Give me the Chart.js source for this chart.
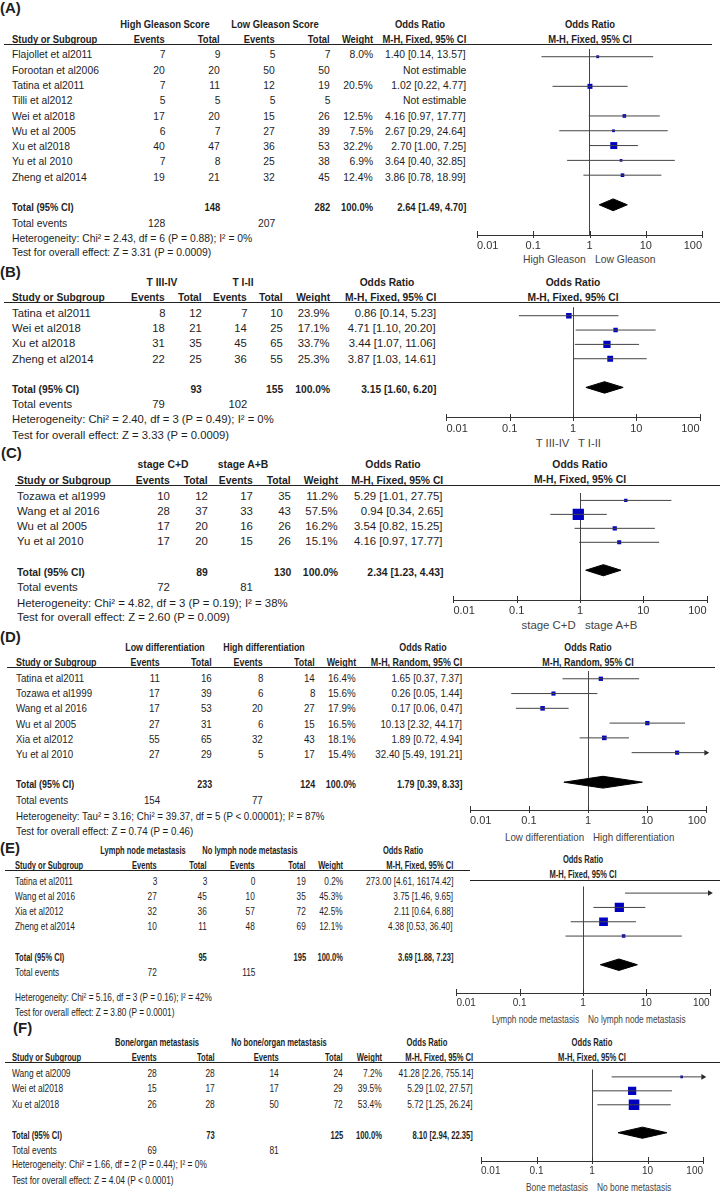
<!DOCTYPE html>
<html>
<head>
<meta charset="utf-8">
<script src="https://cdn.jsdelivr.net/npm/chart.js@4.4.0/dist/chart.umd.min.js"></script>
<style>
  html, body { margin: 0; padding: 0; background: #fff; }
  #page { position: relative; width: 720px; height: 1195px; overflow: hidden;
          font-family: 'Liberation Sans', Arial, sans-serif; color: #1e1e1e; }
  .t { position: absolute; white-space: nowrap; line-height: 14px; font-size: 11.5px; }
  .rule { position: absolute; height: 1px; background: #222; }
  canvas { position: absolute; }
</style>
</head>
<body>
<div id="page"></div>
<script>
// shared axis
const tickValues = [0.01, 0.1, 1, 10, 100];
const tickLabels = ['0.01', '0.1', '1', '10', '100'];

// (A) Gleason score
const studiesA = ['Flajollet et al2011', 'Forootan et al2006', 'Tatina et al2011', 'Tilli et al2012', 'Wei et al2018', 'Wu et al 2005', 'Xu et al2018', 'Yu et al 2010', 'Zheng et al2014'];
const expEventsA = [7, 20, 7, 5, 17, 6, 40, 7, 19];
const expTotalA = [9, 20, 11, 5, 20, 7, 47, 8, 21];
const ctlEventsA = [5, 50, 12, 5, 15, 27, 36, 25, 32];
const ctlTotalA = [7, 50, 19, 5, 26, 39, 53, 38, 45];
const weightA = [8.0, null, 20.5, null, 12.5, 7.5, 32.2, 6.9, 12.4];
const oddsA = [1.40, null, 1.02, null, 4.16, 2.67, 2.70, 3.64, 3.86];
const lowA = [0.14, null, 0.22, null, 0.97, 0.29, 1.00, 0.40, 0.78];
const highA = [13.57, null, 4.77, null, 17.77, 24.64, 7.25, 32.85, 18.99];
const sumTotalsA = [148, 282];
const sumEventsA = [128, 207];
const pooledA = [2.64, 1.49, 4.70];
const groupsA = ['High Gleason Score', 'Low Gleason Score'];
const favoursA = ['High Gleason', 'Low Gleason'];
const methodA = 'M-H, Fixed, 95% CI';
const notesA = ['Heterogeneity: Chi² = 2.43, df = 6 (P = 0.88); I² = 0%', 'Test for overall effect: Z = 3.31 (P = 0.0009)'];

// (B) T stage
const studiesB = ['Tatina et al2011', 'Wei et al2018', 'Xu et al2018', 'Zheng et al2014'];
const expEventsB = [8, 18, 31, 22];
const expTotalB = [12, 21, 35, 25];
const ctlEventsB = [7, 14, 45, 36];
const ctlTotalB = [10, 25, 65, 55];
const weightB = [23.9, 17.1, 33.7, 25.3];
const oddsB = [0.86, 4.71, 3.44, 3.87];
const lowB = [0.14, 1.10, 1.07, 1.03];
const highB = [5.23, 20.20, 11.06, 14.61];
const sumTotalsB = [93, 155];
const sumEventsB = [79, 102];
const pooledB = [3.15, 1.60, 6.20];
const groupsB = ['T III-IV', 'T I-II'];
const favoursB = ['T III-IV', 'T I-II'];
const methodB = 'M-H, Fixed, 95% CI';
const notesB = ['Heterogeneity: Chi² = 2.40, df = 3 (P = 0.49); I² = 0%', 'Test for overall effect: Z = 3.33 (P = 0.0009)'];

// (C) clinical stage
const studiesC = ['Tozawa et al1999', 'Wang et al 2016', 'Wu et al 2005', 'Yu et al 2010'];
const expEventsC = [10, 28, 17, 17];
const expTotalC = [12, 37, 20, 20];
const ctlEventsC = [17, 33, 16, 15];
const ctlTotalC = [35, 43, 26, 26];
const weightC = [11.2, 57.5, 16.2, 15.1];
const oddsC = [5.29, 0.94, 3.54, 4.16];
const lowC = [1.01, 0.34, 0.82, 0.97];
const highC = [27.75, 2.65, 15.25, 17.77];
const sumTotalsC = [89, 130];
const sumEventsC = [72, 81];
const pooledC = [2.34, 1.23, 4.43];
const groupsC = ['stage C+D', 'stage A+B'];
const favoursC = ['stage C+D', 'stage A+B'];
const methodC = 'M-H, Fixed, 95% CI';
const notesC = ['Heterogeneity: Chi² = 4.82, df = 3 (P = 0.19); I² = 38%', 'Test for overall effect: Z = 2.60 (P = 0.009)'];

// (D) differentiation
const studiesD = ['Tatina et al2011', 'Tozawa et al1999', 'Wang et al 2016', 'Wu et al 2005', 'Xia et al2012', 'Yu et al 2010'];
const expEventsD = [11, 17, 17, 27, 55, 27];
const expTotalD = [16, 39, 53, 31, 65, 29];
const ctlEventsD = [8, 6, 20, 6, 32, 5];
const ctlTotalD = [14, 8, 27, 15, 43, 17];
const weightD = [16.4, 15.6, 17.9, 16.5, 18.1, 15.4];
const oddsD = [1.65, 0.26, 0.17, 10.13, 1.89, 32.40];
const lowD = [0.37, 0.05, 0.06, 2.32, 0.72, 5.49];
const highD = [7.37, 1.44, 0.47, 44.17, 4.94, 191.21];
const sumTotalsD = [233, 124];
const sumEventsD = [154, 77];
const pooledD = [1.79, 0.39, 8.33];
const groupsD = ['Low differentiation', 'High differentiation'];
const favoursD = ['Low differentiation', 'High differentiation'];
const methodD = 'M-H, Random, 95% CI';
const notesD = ['Heterogeneity: Tau² = 3.16; Chi² = 39.37, df = 5 (P < 0.00001); I² = 87%', 'Test for overall effect: Z = 0.74 (P = 0.46)'];

// (E) lymph node metastasis
const studiesE = ['Tatina et al2011', 'Wang et al 2016', 'Xia et al2012', 'Zheng et al2014'];
const expEventsE = [3, 27, 32, 10];
const expTotalE = [3, 45, 36, 11];
const ctlEventsE = [0, 10, 57, 48];
const ctlTotalE = [19, 35, 72, 69];
const weightE = [0.2, 45.3, 42.5, 12.1];
const oddsE = [273.00, 3.75, 2.11, 4.38];
const lowE = [4.61, 1.46, 0.64, 0.53];
const highE = [16174.42, 9.65, 6.88, 36.40];
const sumTotalsE = [95, 195];
const sumEventsE = [72, 115];
const pooledE = [3.69, 1.88, 7.23];
const groupsE = ['Lymph node metastasis', 'No lymph node metastasis'];
const favoursE = ['Lymph node metastasis', 'No lymph node metastasis'];
const methodE = 'M-H, Fixed, 95% CI';
const notesE = ['Heterogeneity: Chi² = 5.16, df = 3 (P = 0.16); I² = 42%', 'Test for overall effect: Z = 3.80 (P = 0.0001)'];

// (F) bone/organ metastasis
const studiesF = ['Wang et al2009', 'Wei et al2018', 'Xu et al2018'];
const expEventsF = [28, 15, 26];
const expTotalF = [28, 17, 28];
const ctlEventsF = [14, 17, 50];
const ctlTotalF = [24, 29, 72];
const weightF = [7.2, 39.5, 53.4];
const oddsF = [41.28, 5.29, 5.72];
const lowF = [2.26, 1.02, 1.25];
const highF = [755.14, 27.57, 26.24];
const sumTotalsF = [73, 125];
const sumEventsF = [69, 81];
const pooledF = [8.10, 2.94, 22.35];
const groupsF = ['Bone/organ metastasis', 'No bone/organ metastasis'];
const favoursF = ['Bone metastasis', 'No bone metastasis'];
const methodF = 'M-H, Fixed, 95% CI';
const notesF = ['Heterogeneity: Chi² = 1.66, df = 2 (P = 0.44); I² = 0%', 'Test for overall effect: Z = 4.04 (P < 0.0001)'];

// page layout (pixels), one block per panel
const layoutA = { tag: [0, 8], groupY: 24, headY: 39, rules: [[4, 712, 44]], rowY: 54.3, rowStep: 15.3, hetY: 238, testY: 252, k: 0.9,
  cols: { study: 12, ev1: 165, tot1: 220, ev2: 275, tot2: 330, wt: 373, or: 466, g1: 165, g2: 275, orHead: 420 },
  plot: { left: 477, right: 702, top: 44, bottom: 235, rowY: 52, rowStep: 15.2, headY: 24, dirY: 259, font: 11 } };
const layoutB = { tag: [0, 272], groupY: 282, headY: 297, rules: [[4, 720, 302]], rowY: 313, rowStep: 15.2, hetY: 419, testY: 435, k: 0.98,
  cols: { study: 12, ev1: 165, tot1: 202, ev2: 247, tot2: 283, wt: 330, or: 436, g1: 162, g2: 243, orHead: 387 },
  plot: { left: 446.4, right: 699.6, top: 302, bottom: 418, rowY: 311, rowStep: 15, headY: 282, dirY: 443, font: 11 } };
const layoutC = { tag: [1, 453], groupY: 464, headY: 480, rules: [[15, 720, 485]], rowY: 496, rowStep: 15.1, hetY: 603, testY: 617, k: 0.99,
  cols: { study: 17, ev1: 170, tot1: 208, ev2: 253, tot2: 291, wt: 338, or: 443, g1: 163, g2: 243, orHead: 393 },
  plot: { left: 453.4, right: 706.6, top: 485, bottom: 600, rowY: 493, rowStep: 15, headY: 464, dirY: 625, font: 11 } };
const layoutD = { tag: [0, 637], groupY: 647, headY: 662, rules: [[7, 715, 667]], rowY: 678, rowStep: 15.2, hetY: 816, testY: 831, k: 0.85,
  cols: { study: 16, ev1: 160, tot1: 212, ev2: 263, tot2: 315, wt: 356, or: 462, g1: 165, g2: 264, orHead: 423 },
  plot: { left: 470, right: 706, top: 667, bottom: 810, rowY: 675, rowStep: 15.2, headY: 647, dirY: 837, font: 11 } };
const layoutE = { tag: [0, 848], groupY: 850, headY: 865, rules: [[5, 470, 870], [470, 720, 880]], rowY: 881, rowStep: 15.1, hetY: 997, testY: 1012, k: 0.72,
  cols: { study: 15, ev1: 157, tot1: 207, ev2: 255, tot2: 306, wt: 343, or: 453, g1: 143, g2: 250, orHead: 403 },
  plot: { left: 456.4, right: 709.6, top: 880, bottom: 993, rowY: 887, rowStep: 15.2, headY: 859, dirY: 1019, font: 10 } };
const layoutF = { tag: [13, 1028], groupY: 1042, headY: 1057, rules: [[5, 720, 1062]], rowY: 1073, rowStep: 15.4, hetY: 1164, testY: 1180, k: 0.73,
  cols: { study: 12, ev1: 157, tot1: 215, ev2: 279, tot2: 343, wt: 382, or: 473, g1: 157, g2: 279, orHead: 427 },
  plot: { left: 481, right: 703, top: 1062, bottom: 1161, rowY: 1070, rowStep: 15.1, headY: 1042, dirY: 1187, font: 10 } };
const boldSqueeze = 0.91;

const panels = [
  { tag: '(A)', studies: studiesA, expEvents: expEventsA, expTotal: expTotalA, ctlEvents: ctlEventsA, ctlTotal: ctlTotalA, weight: weightA, odds: oddsA, low: lowA, high: highA, sumTotals: sumTotalsA, sumEvents: sumEventsA, pooled: pooledA, groups: groupsA, favours: favoursA, method: methodA, notes: notesA, layout: layoutA },
  { tag: '(B)', studies: studiesB, expEvents: expEventsB, expTotal: expTotalB, ctlEvents: ctlEventsB, ctlTotal: ctlTotalB, weight: weightB, odds: oddsB, low: lowB, high: highB, sumTotals: sumTotalsB, sumEvents: sumEventsB, pooled: pooledB, groups: groupsB, favours: favoursB, method: methodB, notes: notesB, layout: layoutB },
  { tag: '(C)', studies: studiesC, expEvents: expEventsC, expTotal: expTotalC, ctlEvents: ctlEventsC, ctlTotal: ctlTotalC, weight: weightC, odds: oddsC, low: lowC, high: highC, sumTotals: sumTotalsC, sumEvents: sumEventsC, pooled: pooledC, groups: groupsC, favours: favoursC, method: methodC, notes: notesC, layout: layoutC },
  { tag: '(D)', studies: studiesD, expEvents: expEventsD, expTotal: expTotalD, ctlEvents: ctlEventsD, ctlTotal: ctlTotalD, weight: weightD, odds: oddsD, low: lowD, high: highD, sumTotals: sumTotalsD, sumEvents: sumEventsD, pooled: pooledD, groups: groupsD, favours: favoursD, method: methodD, notes: notesD, layout: layoutD },
  { tag: '(E)', studies: studiesE, expEvents: expEventsE, expTotal: expTotalE, ctlEvents: ctlEventsE, ctlTotal: ctlTotalE, weight: weightE, odds: oddsE, low: lowE, high: highE, sumTotals: sumTotalsE, sumEvents: sumEventsE, pooled: pooledE, groups: groupsE, favours: favoursE, method: methodE, notes: notesE, layout: layoutE },
  { tag: '(F)', studies: studiesF, expEvents: expEventsF, expTotal: expTotalF, ctlEvents: ctlEventsF, ctlTotal: ctlTotalF, weight: weightF, odds: oddsF, low: lowF, high: highF, sumTotals: sumTotalsF, sumEvents: sumEventsF, pooled: pooledF, groups: groupsF, favours: favoursF, method: methodF, notes: notesF, layout: layoutF }
];

const page = document.getElementById('page');

// absolutely placed text, y is the visual middle of the line
function put(str, x, y, opt = {}) {
  const d = document.createElement('div');
  d.className = 't';
  d.textContent = str;
  let k = opt.k || 1;
  if (opt.bold) k *= boldSqueeze;
  d.style.top = (y - 7) + 'px';
  if (opt.size) d.style.fontSize = opt.size + 'px';
  if (opt.bold) d.style.fontWeight = 'bold';
  if (opt.color) d.style.color = opt.color;
  const align = opt.align || 'left';
  if (align === 'left') {
    d.style.left = x + 'px';
    d.style.transformOrigin = 'left center';
    d.style.transform = `scaleX(${k})`;
  } else if (align === 'right') {
    d.style.right = (720 - x) + 'px';
    d.style.transformOrigin = 'right center';
    d.style.transform = `scaleX(${k})`;
  } else {
    d.style.left = x + 'px';
    d.style.transform = `translateX(-50%) scaleX(${k})`;
  }
  page.appendChild(d);
}

function rule(x0, x1, y) {
  const d = document.createElement('div');
  d.className = 'rule';
  d.style.left = x0 + 'px';
  d.style.width = (x1 - x0) + 'px';
  d.style.top = y + 'px';
  page.appendChild(d);
}

const orText = (o, l, h) => `${o.toFixed(2)} [${l.toFixed(2)}, ${h.toFixed(2)}]`;
const squareRadius = w => (1.5 + 0.17 * w) / Math.SQRT2;

// tick marks crossing the axis line
const axisTicks = {
  id: 'axisTicks',
  afterDraw(chart) {
    const s = chart.scales.x, ctx = chart.ctx, yb = Math.round(chart.chartArea.bottom);
    ctx.save();
    ctx.strokeStyle = '#333';
    ctx.lineWidth = 1;
    s.ticks.forEach(t => {
      const x = Math.round(s.getPixelForValue(t.value)) + 0.5;
      ctx.beginPath();
      ctx.moveTo(x, yb - 4);
      ctx.lineTo(x, yb + 3);
      ctx.stroke();
    });
    ctx.restore();
  }
};

function drawPanel(p) {
  const L = p.layout, c = L.cols, n = p.studies.length;
  const rowAt = i => L.rowY + i * L.rowStep;
  const o = { k: L.k };
  const r = { k: L.k, align: 'right' };
  const rb = { k: L.k, align: 'right', bold: true };

  put(p.tag, L.tag[0], L.tag[1], { bold: true, size: 15, k: 1 / boldSqueeze });
  L.rules.forEach(([x0, x1, y]) => rule(x0, x1, y));

  // table header
  put(p.groups[0], c.g1, L.groupY, { k: L.k, bold: true, align: 'center' });
  put(p.groups[1], c.g2, L.groupY, { k: L.k, bold: true, align: 'center' });
  put('Odds Ratio', c.orHead, L.groupY, { k: L.k, bold: true, align: 'center' });
  put('Study or Subgroup', c.study, L.headY, { k: L.k, bold: true });
  put('Events', c.ev1, L.headY, rb);
  put('Total', c.tot1, L.headY, rb);
  put('Events', c.ev2, L.headY, rb);
  put('Total', c.tot2, L.headY, rb);
  put('Weight', c.wt, L.headY, rb);
  put(p.method, c.or, L.headY, rb);

  // study rows
  p.studies.forEach((name, i) => {
    const y = rowAt(i);
    put(name, c.study, y, o);
    put(String(p.expEvents[i]), c.ev1, y, r);
    put(String(p.expTotal[i]), c.tot1, y, r);
    put(String(p.ctlEvents[i]), c.ev2, y, r);
    put(String(p.ctlTotal[i]), c.tot2, y, r);
    if (p.weight[i] != null) put(p.weight[i].toFixed(1) + '%', c.wt, y, r);
    put(p.odds[i] == null ? 'Not estimable' : orText(p.odds[i], p.low[i], p.high[i]), c.or, y, r);
  });

  // totals
  const yt = rowAt(n + 1), ye = rowAt(n + 2);
  put('Total (95% CI)', c.study, yt, { k: L.k, bold: true });
  put(String(p.sumTotals[0]), c.tot1, yt, rb);
  put(String(p.sumTotals[1]), c.tot2, yt, rb);
  put('100.0%', c.wt, yt, rb);
  put(orText(p.pooled[0], p.pooled[1], p.pooled[2]), c.or, yt, rb);
  put('Total events', c.study, ye, o);
  put(String(p.sumEvents[0]), c.ev1, ye, r);
  put(String(p.sumEvents[1]), c.ev2, ye, r);
  put(p.notes[0], c.study, L.hetY, o);
  put(p.notes[1], c.study, L.testY, o);

  // forest plot
  const P = L.plot;
  const mid = (P.left + P.right) / 2;
  put('Odds Ratio', mid, P.headY, { k: L.k, bold: true, align: 'center' });
  put(p.method, mid, P.headY + 15, { k: L.k, bold: true, align: 'center' });
  put(p.favours[0], mid - 4, P.dirY, { k: L.k, align: 'right', color: '#444' });
  put(p.favours[1], mid + 5, P.dirY, { k: L.k, color: '#444' });

  const axisH = 30, pad = 14;
  const cvLeft = Math.floor(P.left) - pad;
  const cvW = Math.ceil(P.right) + pad - cvLeft;
  const cvH = P.bottom - P.top + axisH;
  const cv = document.createElement('canvas');
  cv.width = cvW;
  cv.height = cvH;
  cv.style.left = cvLeft + 'px';
  cv.style.top = P.top + 'px';
  page.appendChild(cv);

  const xMin = tickValues[0], xMax = tickValues[tickValues.length - 1];
  const datasets = [];
  p.studies.forEach((s, i) => {
    if (p.odds[i] == null) return;
    datasets.push({
      data: [{ x: p.low[i], y: i }, { x: p.high[i], y: i }],
      showLine: true, borderColor: '#444', borderWidth: 1, pointRadius: 0
    });
  });
  datasets.push({
    data: p.studies.map((s, i) => ({ x: p.odds[i], y: i, w: p.weight[i] })).filter(d => d.x != null),
    pointStyle: 'rect', backgroundColor: '#0000c0', borderWidth: 0,
    pointRadius: ctx => squareRadius(ctx.raw.w)
  });
  datasets.push({
    data: p.studies.map((s, i) => ({ x: xMax, y: i, hi: p.high[i] })).filter(d => d.hi != null && d.hi > xMax),
    pointStyle: 'triangle', pointRotation: 90, pointRadius: 3.2,
    backgroundColor: '#222', borderColor: '#222', borderWidth: 0, clip: false
  });
  const t = n + 1, h = 0.4;
  const [est, lo, hi] = p.pooled;
  datasets.push({
    data: [{ x: lo, y: t }, { x: est, y: t - h }, { x: hi, y: t }, { x: est, y: t + h }, { x: lo, y: t }],
    showLine: true, fill: 'shape', backgroundColor: '#000', borderColor: '#000', borderWidth: 1, pointRadius: 0
  });

  new Chart(cv, {
    type: 'scatter',
    data: { datasets },
    options: {
      responsive: false, animation: false, devicePixelRatio: 1, events: [],
      layout: { padding: { left: P.left - cvLeft, right: cvW - (P.right - cvLeft), top: 0, bottom: 0 } },
      plugins: { legend: { display: false }, tooltip: { enabled: false } },
      scales: {
        x: {
          type: 'logarithmic', min: xMin, max: xMax,
          afterBuildTicks: s => { s.ticks = tickValues.map(v => ({ value: v })); },
          afterFit: s => { s.height = axisH; },
          grid: { drawTicks: false, lineWidth: 1, color: ctx => (ctx.tick && ctx.tick.value === 1 ? '#444' : 'rgba(0,0,0,0)') },
          border: { display: true, color: '#333', width: 1 },
          ticks: {
            autoSkip: false, maxRotation: 0, align: 'inner', padding: 4, color: '#333',
            font: { family: "'Liberation Sans', Arial, sans-serif", size: P.font },
            callback: (v, i) => tickLabels[i]
          }
        },
        y: {
          type: 'linear', display: false, reverse: true,
          min: (P.top - P.rowY) / P.rowStep,
          max: (P.bottom - P.rowY) / P.rowStep
        }
      }
    },
    plugins: [axisTicks]
  });
}

panels.forEach(drawPanel);
</script>
</body>
</html>
